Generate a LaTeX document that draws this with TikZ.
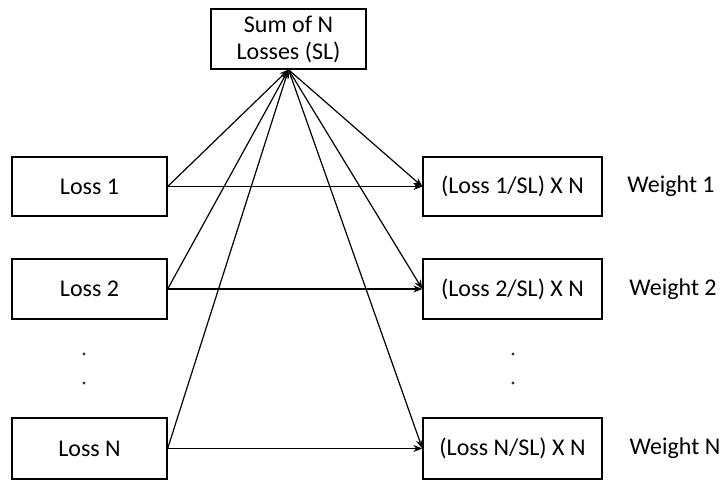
\documentclass[tikz,border=0pt]{standalone}
\usepackage{fontspec}
\setmainfont{Carlito}
\usetikzlibrary{arrows.meta}
\begin{document}
\begin{tikzpicture}[x=1pt,y=-1pt,
  box/.style={draw=black, line width=1.3pt, fill=white, inner sep=0pt, font=\fontsize{24}{28}\selectfont},
  lbl/.style={inner sep=0pt, font=\fontsize{24}{28}\selectfont},
  dotn/.style={circle, fill=black!80, inner sep=0pt, minimum size=3.2pt},
  conn/.style={line width=1.2pt, -{Stealth[length=9pt,width=7pt]}}]
\useasboundingbox (0,0) rectangle (725,483);
\node[box, minimum width=155pt, minimum height=60pt, align=center] (sl) at (288.5,39) {Sum of N\\[-1pt]Losses (SL)};
\node[box, minimum width=155pt, minimum height=59pt] (l1) at (89.5,186.5) {Loss 1};
\node[box, minimum width=155pt, minimum height=60pt] (l2) at (89.5,289) {Loss 2};
\node[box, minimum width=155pt, minimum height=61pt] (ln) at (89.5,448.5) {Loss N};
\node[box, minimum width=179pt, minimum height=59pt] (r1) at (512.5,186.5) {(Loss 1/SL) X N};
\node[box, minimum width=179pt, minimum height=60pt] (r2) at (512.5,289) {(Loss 2/SL) X N};
\node[box, minimum width=179pt, minimum height=61pt] (rn) at (512.5,448.5) {(Loss N/SL) X N};
\node[lbl] (w1) at (671,186) {Weight 1};
\node[lbl] (w2) at (673,289) {Weight 2};
\node[lbl] (wn) at (675,448) {Weight N};
\node[dotn] (d1) at (84,354) {};
\node[dotn] (d2) at (84,383) {};
\node[dotn] (d3) at (513,354) {};
\node[dotn] (d4) at (513,383) {};
\draw[conn] (l1.east) -- (r1.west);
\draw[conn] (l2.east) -- (r2.west);
\draw[conn] (ln.east) -- (rn.west);
\draw[conn] (l1.east) -- (sl.south);
\draw[conn] (l2.east) -- (sl.south);
\draw[conn] (ln.east) -- (sl.south);
\draw[conn] (sl.south) -- (r1.west);
\draw[conn] (sl.south) -- (r2.west);
\draw[conn] (sl.south) -- (rn.west);
\end{tikzpicture}
\end{document}
